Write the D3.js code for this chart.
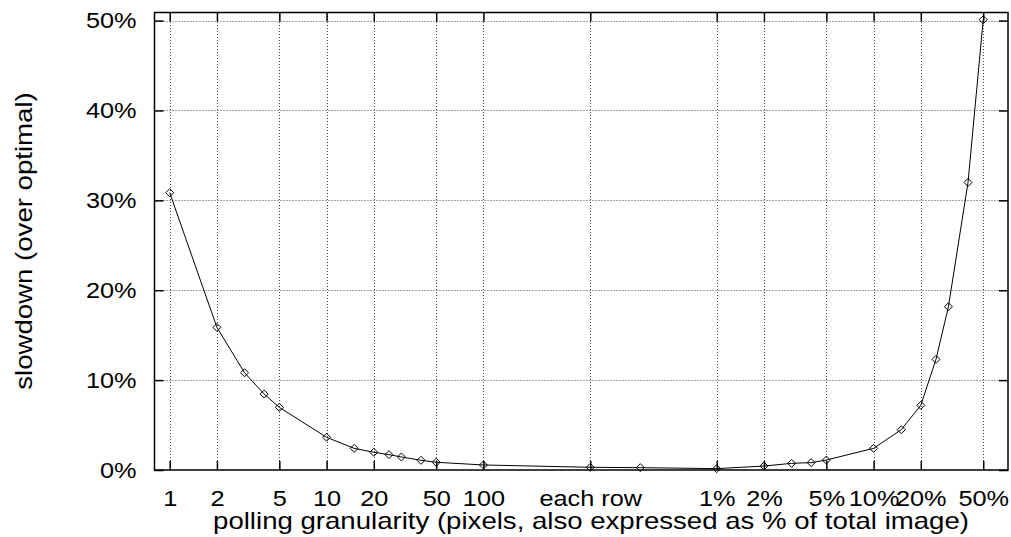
<!DOCTYPE html>
<html>
<head>
<meta charset="utf-8">
<script src="https://cdn.jsdelivr.net/npm/d3@7"></script>
<style>
  html, body { margin: 0; padding: 0; background: #fff; }
  svg { display: block; }
  text { font-family: "Liberation Sans", Arial, Helvetica, sans-serif; fill: #000; }
</style>
</head>
<body>
<svg id="chart" width="1011" height="537"></svg>
<script>
// Granularity in pixels (image of 307200 px total; a row is 480 px)
const granularity = [1, 2, 3, 4, 5, 10, 15, 20, 25, 30, 40, 50, 100, 480, 1000,
  3072, 6144, 9216, 12288, 15360, 30720, 46080, 61440, 76800, 92160, 122880, 153600];
// Slowdown over optimal, in %
const slowdown = [30.85, 15.87, 10.82, 8.45, 6.97, 3.64, 2.41, 1.97, 1.71, 1.45, 1.08, 0.86, 0.56, 0.30, 0.26,
  0.15, 0.44, 0.74, 0.82, 1.11, 2.41, 4.48, 7.2, 12.31, 18.16, 32.0, 50.1];
// X ticks
const xTickValues = [1, 2, 5, 10, 20, 50, 100, 480, 3072, 6144, 15360, 30720, 61440, 153600];
const xTickLabels = ["1", "2", "5", "10", "20", "50", "100", "each row", "1%", "2%", "5%", "10%", "20%", "50%"];
// Y ticks
const yTickValues = [0, 10, 20, 30, 40, 50];
const yTickLabels = ["0%", "10%", "20%", "30%", "40%", "50%"];

const xTitle = "polling granularity (pixels, also expressed as % of total image)";
const yTitle = "slowdown (over optimal)";

const L = 154.5, R = 1008, T = 12.5, B = 470;
const svg = d3.select("#chart");

const x = d3.scaleLog().domain([0.8, 221000]).range([L, R]);
const y = d3.scaleLinear().domain([0, 50.9]).range([B, T]);

const FS = 22, SX = 1.15;     // tick labels (glyphs wider than Arial)
const TFS = 23, TSX = 1.2;    // axis titles
const tickLen = 9;

// grid lines
const grid = svg.append("g").attr("stroke", "#444").attr("stroke-width", 1).attr("stroke-dasharray", "1,2");
grid.selectAll("line.vx").data(xTickValues).join("line")
  .attr("x1", d => Math.round(x(d)) + 0.5).attr("x2", d => Math.round(x(d)) + 0.5)
  .attr("y1", B).attr("y2", T);
grid.selectAll("line.hy").data(yTickValues.filter(d => d > 0)).join("line")
  .attr("y1", d => Math.round(y(d)) + 0.5).attr("y2", d => Math.round(y(d)) + 0.5)
  .attr("x1", L).attr("x2", R);

// axes (ticks inside, mirrored)
const axB = d3.axisBottom(x).tickValues(xTickValues).tickFormat((d, i) => xTickLabels[i]).tickSizeInner(-tickLen).tickSizeOuter(0).tickPadding(tickLen + 11);
const axT = d3.axisTop(x).tickValues(xTickValues).tickFormat("").tickSizeInner(-tickLen).tickSizeOuter(0);
const axL = d3.axisLeft(y).tickValues(yTickValues).tickFormat((d, i) => yTickLabels[i]).tickSizeInner(-tickLen).tickSizeOuter(0).tickPadding(tickLen + 9);
const axR = d3.axisRight(y).tickValues(yTickValues).tickFormat("").tickSizeInner(-tickLen).tickSizeOuter(0);

function style(g) {
  g.select(".domain").remove();
  g.selectAll(".tick line").attr("stroke", "#000").attr("stroke-width", 1.5);
  g.selectAll(".tick text").attr("font-size", FS).attr("font-family", '"Liberation Sans", Arial, sans-serif').attr("fill", "#000");
}
svg.append("g").attr("transform", `translate(0,${B})`).call(axB).call(style)
  .selectAll(".tick text").attr("transform", `scale(${SX},1)`);
svg.append("g").attr("transform", `translate(0,${T})`).call(axT).call(style);
svg.append("g").attr("transform", `translate(${L},0)`).call(axL).call(style)
  .selectAll(".tick text").attr("x", -(tickLen + 9) / SX).attr("transform", `scale(${SX},1)`);
svg.append("g").attr("transform", `translate(${R},0)`).call(axR).call(style);

// frame
svg.append("rect").attr("x", L).attr("y", T).attr("width", R - L).attr("height", B - T)
  .attr("fill", "none").attr("stroke", "#000").attr("stroke-width", 1.5);

// data line
const pts = granularity.map((g, i) => [g, slowdown[i]]);
svg.append("path").datum(pts)
  .attr("fill", "none").attr("stroke", "#000").attr("stroke-width", 1)
  .attr("d", d3.line().x(d => x(d[0])).y(d => y(d[1])));

// diamond markers
const s = 4;
svg.append("g").selectAll("path").data(pts).join("path")
  .attr("transform", d => `translate(${x(d[0])},${y(d[1])})`)
  .attr("d", `M0,${-s}L${s},0L0,${s}L${-s},0Z`)
  .attr("fill", "none").attr("stroke", "#000").attr("stroke-width", 1);

// titles
svg.append("text").attr("transform", `translate(591,529) scale(${TSX},1)`).attr("text-anchor", "middle")
  .attr("font-size", TFS).text(xTitle);
svg.append("text").attr("transform", `translate(32,241) rotate(-90) scale(${TSX},1)`).attr("text-anchor", "middle")
  .attr("font-size", TFS).text(yTitle);
</script>
</body>
</html>
